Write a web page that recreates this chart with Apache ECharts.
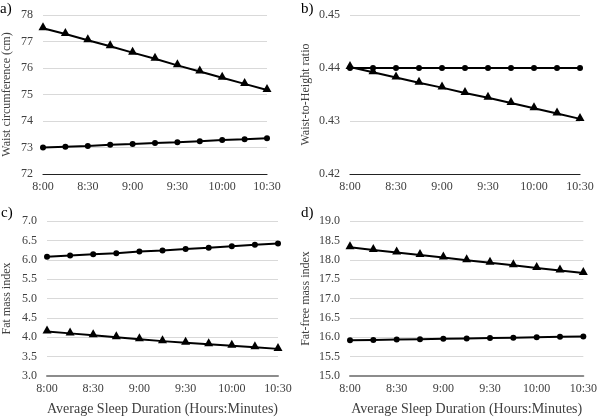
<!DOCTYPE html>
<html>
<head>
<meta charset="utf-8">
<script src="https://cdn.jsdelivr.net/npm/echarts@6/dist/echarts.min.js"></script>
<style>
  html, body { margin: 0; padding: 0; background: #fff; }
  #main { width: 600px; height: 417px; }
</style>
</head>
<body>
<div id="main"></div>
<script>
// sleep duration categories, every 15 minutes
var times = ['8:00', '8:15', '8:30', '8:45', '9:00', '9:15', '9:30', '9:45', '10:00', '10:15', '10:30'];

// a) waist circumference
var waistTri = [77.5, 77.28, 77.05, 76.82, 76.58, 76.35, 76.1, 75.87, 75.63, 75.4, 75.17];
var waistDot = [73.0, 73.03, 73.06, 73.1, 73.13, 73.17, 73.2, 73.24, 73.28, 73.31, 73.35];
// b) waist-to-height ratio
var whtrTri = [0.4402, 0.4392, 0.4382, 0.4372, 0.4363, 0.4353, 0.4344, 0.4334, 0.4324, 0.4314, 0.4304];
var whtrDot = [0.44, 0.44, 0.44, 0.44, 0.44, 0.44, 0.44, 0.44, 0.44, 0.44, 0.44];
// c) fat mass index
var fmiDot = [6.08, 6.11, 6.14, 6.17, 6.21, 6.24, 6.28, 6.31, 6.35, 6.39, 6.42];
var fmiTri = [4.15, 4.1, 4.05, 4.0, 3.95, 3.9, 3.86, 3.82, 3.78, 3.74, 3.7];
// d) fat-free mass index
var ffmiTri = [18.32, 18.25, 18.19, 18.12, 18.06, 17.99, 17.92, 17.86, 17.79, 17.72, 17.66];
var ffmiDot = [15.92, 15.93, 15.94, 15.95, 15.96, 15.97, 15.98, 15.99, 16.0, 16.01, 16.02];

var font = "'Liberation Serif', 'DejaVu Serif', serif";
var textCol = '#404040';

var grids = [
  { left: 43, top: 15, width: 224, height: 159 },
  { left: 350, top: 15, width: 230, height: 159 },
  { left: 47, top: 221, width: 231, height: 159 },
  { left: 350, top: 221, width: 238, height: 159 }
];

var yDefs = [
  { name: 'Waist circumference (cm)', min: 72, max: 78, interval: 1, dec: 0 },
  { name: 'Waist-to-Height ratio', min: 0.42, max: 0.45, interval: 0.01, dec: 2 },
  { name: 'Fat mass index', min: 3, max: 7, interval: 0.5, dec: 1 },
  { name: 'Fat-free mass index', min: 15, max: 19, interval: 0.5, dec: 1 }
];

var xAxes = grids.map(function (g, i) {
  var bottomRow = i >= 2;
  return {
    type: 'category',
    gridIndex: i,
    data: times,
    boundaryGap: false,
    axisLine: { lineStyle: { color: bottomRow ? '#8c8c8c' : '#222', width: bottomRow ? 2 : 1.2 } },
    axisTick: { show: false },
    axisLabel: { interval: 1, color: textCol, fontFamily: font, fontSize: 12, margin: 7 },
    name: bottomRow ? 'Average Sleep Duration (Hours:Minutes)' : '',
    nameLocation: 'middle',
    nameGap: 26,
    nameTextStyle: { color: textCol, fontFamily: font, fontSize: 14 }
  };
});

var yAxes = yDefs.map(function (d, i) {
  return {
    type: 'value',
    gridIndex: i,
    min: d.min,
    max: d.max,
    interval: d.interval,
    axisLine: { show: false },
    axisTick: { show: false },
    splitLine: { lineStyle: { color: '#d9d9d9', width: 1 } },
    axisLabel: {
      color: textCol, fontFamily: font, fontSize: 12, margin: 10,
      formatter: function (v) { return v.toFixed(d.dec); }
    },
    name: d.name,
    nameLocation: 'middle',
    nameRotate: 90,
    nameGap: i % 2 === 0 ? (i === 0 ? 30 : 34) : 38,
    nameTextStyle: { color: textCol, fontFamily: font, fontSize: 12 }
  };
});

function tri(idx, data) {
  return {
    type: 'line', xAxisIndex: idx, yAxisIndex: idx, data: data,
    symbol: 'triangle', symbolSize: [9, 8], symbolOffset: [0, -2], showAllSymbol: true,
    itemStyle: { color: '#000' }, lineStyle: { color: '#000', width: 2 },
    silent: true, animation: false
  };
}
function dot(idx, data) {
  return {
    type: 'line', xAxisIndex: idx, yAxisIndex: idx, data: data,
    symbol: 'circle', symbolSize: 6, showAllSymbol: true,
    itemStyle: { color: '#000' }, lineStyle: { color: '#000', width: 2 },
    silent: true, animation: false
  };
}

var chart = echarts.init(document.getElementById('main'));
chart.setOption({
  backgroundColor: '#fff',
  animation: false,
  textStyle: { fontFamily: font },
  title: [
    { text: 'a)', left: 0, top: 2 },
    { text: 'b)', left: 301, top: 2 },
    { text: 'c)', left: 1, top: 206 },
    { text: 'd)', left: 301, top: 206 }
  ].map(function (t) {
    t.textStyle = { fontFamily: font, fontSize: 15, fontWeight: 'normal', color: '#000' };
    t.padding = 0;
    return t;
  }),
  grid: grids,
  xAxis: xAxes,
  yAxis: yAxes,
  series: [
    tri(0, waistTri), dot(0, waistDot),
    tri(1, whtrTri), dot(1, whtrDot),
    dot(2, fmiDot), tri(2, fmiTri),
    tri(3, ffmiTri), dot(3, ffmiDot)
  ]
});
</script>
</body>
</html>
